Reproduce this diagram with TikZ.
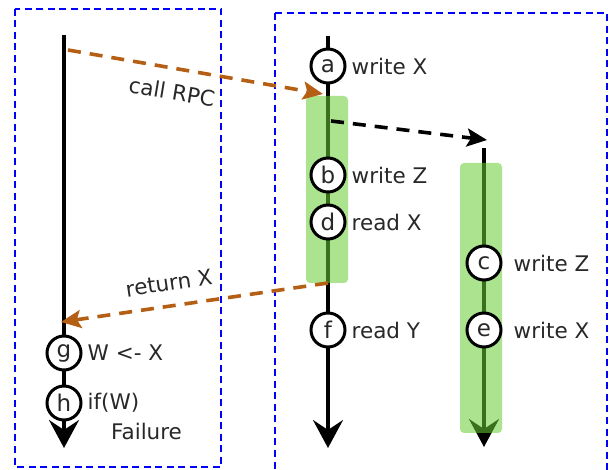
\documentclass[tikz,border=0pt]{standalone}
\usepackage{fontspec}
\setmainfont{DejaVu Sans}
\usetikzlibrary{arrows.meta}
\definecolor{rpcbrown}{RGB}{180,95,20}
\definecolor{ink}{RGB}{40,40,40}
\definecolor{spangreen}{RGB}{102,204,51}
\tikzset{
  frame/.style={draw=blue, line width=2.2pt, dash pattern=on 7pt off 4.5pt},
  timeline/.style={draw=black, line width=3.2pt, -{Stealth[length=28pt,width=30pt,inset=10pt]}},
  event/.style={circle, draw=black, fill=white, line width=3pt, minimum size=34pt, inner sep=0pt, font=\fontsize{23}{26}\selectfont, text=ink},
  evlabel/.style={anchor=west, font=\fontsize{21.5}{24}\selectfont, text=ink, inner sep=0pt, xshift=5pt},
  rpc/.style={draw=rpcbrown, line width=3.6pt, dash pattern=on 13pt off 9pt, -{Stealth[length=20pt,width=18pt,inset=4pt]}},
  fork/.style={draw=black, line width=3.6pt, dash pattern=on 13pt off 9pt, -{Stealth[length=20pt,width=18pt,inset=4pt]}},
  span/.style={fill=spangreen, fill opacity=0.55, rounded corners=4pt},
  msg/.style={font=\fontsize{21.5}{24}\selectfont, text=ink, inner sep=1pt}
}
\begin{document}
\begin{tikzpicture}[x=1pt,y=-1pt]
\useasboundingbox (0,0) rectangle (611,470);

% process boundaries
\draw[frame] (15,9) rectangle (221,467);
\draw[frame] (275,13) -- (607,13) -- (607,480);
\draw[frame] (275,13) -- (275,480);

% caller timeline
\coordinate (c0) at (64,35);
\coordinate (c1) at (64,448);
\draw[timeline] (c0) -- (c1);
\node[event] (g) at (64,353) {g};
\node[event] (h) at (64,403) {h};
\node[evlabel] at (g.east) {W <- X};
\node[evlabel] at (h.east) {if(W)};
\node[evlabel, xshift=-5pt] (fail) at (111,431) {Failure};

% server timeline
\coordinate (s0) at (328,36);
\coordinate (s1) at (328,448);
\draw[timeline] (s0) -- (s1);

% spawned thread timeline
\coordinate (t0) at (484,148);
\coordinate (t1) at (484,447);
\draw[timeline] (t0) -- (t1);

% spans of the RPC handler and the spawned thread
\fill[span] (306,96) rectangle (348,283);
\fill[span] (460,163) rectangle (502,433);

% events on the server side
\node[event] (a) at (328,66) {a};
\node[event] (b) at (328,175) {b};
\node[event] (d) at (328,222) {d};
\node[event] (f) at (328,330) {f};
\node[event] (c) at (484,263) {c};
\node[event] (e) at (484,330) {e};
\node[evlabel] at (a.east) {write X};
\node[evlabel] at (b.east) {write Z};
\node[evlabel] at (d.east) {read X};
\node[evlabel] at (f.east) {read Y};
\node[evlabel, xshift=6pt] at (c.east) {write Z};
\node[evlabel, xshift=6pt] at (e.east) {write X};

% messages
\coordinate (callsrc) at (68,50);
\coordinate (calldst) at (323,94);
\draw[rpc] (callsrc) -- (calldst);
\node[msg, rotate=-9.5] (calllbl) at (172,92) {call RPC};

\coordinate (forksrc) at (331,121);
\coordinate (forkdst) at (487,140);
\draw[fork] (forksrc) -- (forkdst);

\coordinate (retsrc) at (328,283);
\coordinate (retdst) at (61,322);
\draw[rpc] (retsrc) -- (retdst);
\node[msg, rotate=8.5] (retlbl) at (169,283) {return X};
\end{tikzpicture}
\end{document}
